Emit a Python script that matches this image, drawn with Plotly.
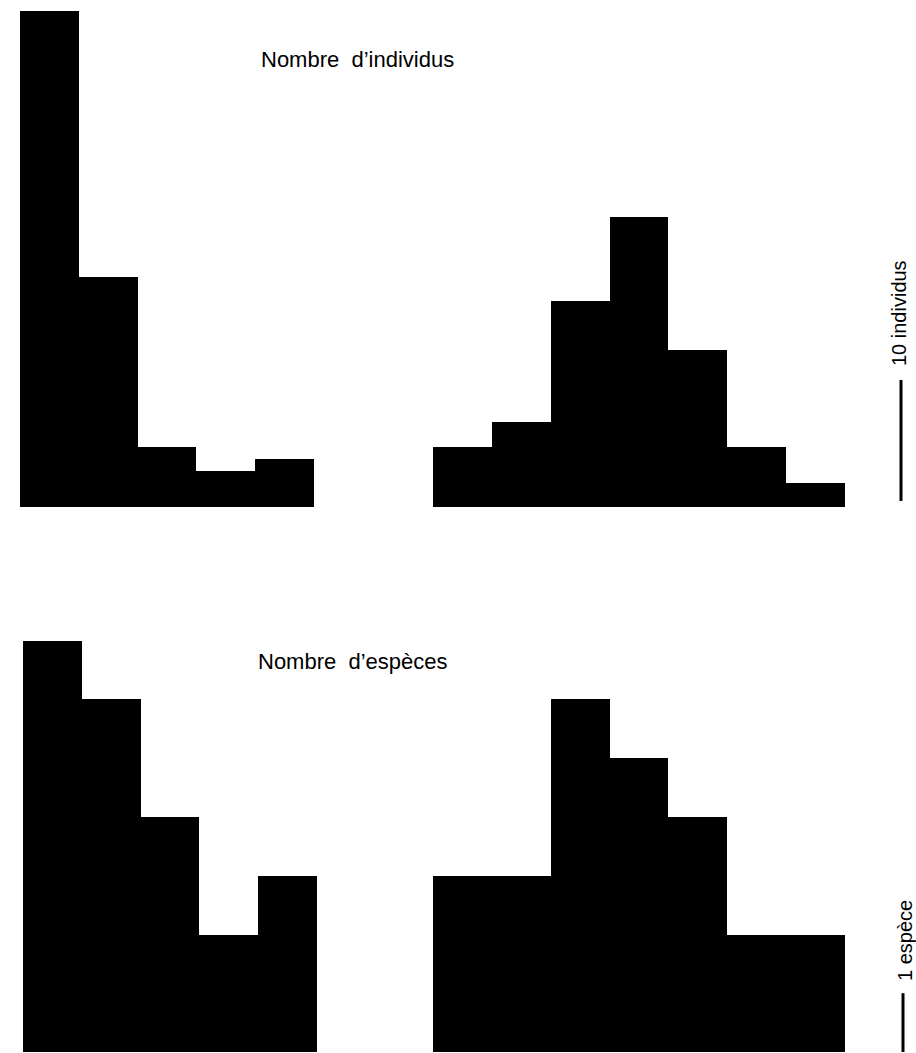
import plotly.graph_objects as go

# ---- data ----
ind_left = [41, 19, 5, 3, 4]            # Nombre d'individus, left histogram
ind_right = [5, 7, 17, 24, 13, 5, 2]    # Nombre d'individus, right histogram
esp_left = [7, 6, 4, 2, 3]              # Nombre d'espèces, left histogram
esp_right = [3, 3, 6, 5, 4, 2, 2]       # Nombre d'espèces, right histogram
scale_ind = 10                          # scale bar: 10 individus
scale_esp = 1                           # scale bar: 1 espèce

title_top = "Nombre  d’individus"
title_bot = "Nombre  d’espèces"
label_ind = "10 individus"
label_esp = "1 espèce"

# ---- layout geometry (pixels) ----
W, H = 916, 1053
FONT = "Liberation Sans"

def px_x(x):
    return x / W

def px_y(y):
    return (H - y) / H

# top row: baseline 507 px, 12.1 px per individual
top_base, top_unit, top_max = 507, 12.1, 41.5
# bottom row: baseline 1052 px, 58.8 px per species
bot_base, bot_unit, bot_max = 1052, 58.8, 7.3

top_dom = [px_y(top_base), px_y(top_base - top_max * top_unit)]
bot_dom = [px_y(bot_base), px_y(bot_base - bot_max * bot_unit)]

panels = [
    # (values, x-left px, x-right px, row)
    (ind_left, 20, 314, "top"),
    (ind_right, 433, 845, "top"),
    (esp_left, 23, 317, "bot"),
    (esp_right, 433, 845, "bot"),
]

fig = go.Figure()
layout = dict(
    width=W, height=H,
    margin=dict(l=0, r=0, t=0, b=0),
    paper_bgcolor="white", plot_bgcolor="white",
    showlegend=False, bargap=0,
)

for i, (vals, xl, xr, row) in enumerate(panels, start=1):
    suf = "" if i == 1 else str(i)
    fig.add_trace(go.Bar(
        x=list(range(len(vals))), y=vals, width=1,
        marker=dict(color="black", line=dict(width=0)),
        xaxis="x" + suf, yaxis="y" + suf, hoverinfo="skip",
    ))
    dom = top_dom if row == "top" else bot_dom
    rng = [0, top_max] if row == "top" else [0, bot_max]
    layout["xaxis" + suf] = dict(
        domain=[px_x(xl), px_x(xr)], range=[-0.5, len(vals) - 0.5],
        anchor="y" + suf, visible=False, fixedrange=True,
    )
    layout["yaxis" + suf] = dict(
        domain=dom, range=rng, anchor="x" + suf, visible=False, fixedrange=True,
    )

fig.update_layout(**layout)

# scale bars
fig.add_shape(type="line", xref="paper", yref="y2",
              x0=px_x(901), x1=px_x(901), y0=0.5, y1=0.5 + scale_ind,
              line=dict(color="black", width=3))
fig.add_shape(type="line", xref="paper", yref="y4",
              x0=px_x(903), x1=px_x(903), y0=0, y1=scale_esp,
              line=dict(color="black", width=3))

# texts
fig.add_annotation(text=title_top, xref="paper", yref="paper",
                   x=px_x(357), y=px_y(60), xanchor="center", yanchor="middle",
                   showarrow=False, font=dict(family=FONT, size=22, color="black"))
fig.add_annotation(text=title_bot, xref="paper", yref="paper",
                   x=px_x(353), y=px_y(661), xanchor="center", yanchor="middle",
                   showarrow=False, font=dict(family=FONT, size=22, color="black"))
fig.add_annotation(text=label_ind, xref="paper", yref="paper",
                   x=px_x(899), y=px_y(313), xanchor="center", yanchor="middle",
                   textangle=-90, showarrow=False,
                   font=dict(family=FONT, size=20, color="black"))
fig.add_annotation(text=label_esp, xref="paper", yref="paper",
                   x=px_x(905), y=px_y(941), xanchor="center", yanchor="middle",
                   textangle=-90, showarrow=False,
                   font=dict(family=FONT, size=20, color="black"))

fig.write_html(
    "out.html",
    config={"displayModeBar": False},
    post_script="document.body.style.margin='0';document.body.style.overflow='hidden';",
)
